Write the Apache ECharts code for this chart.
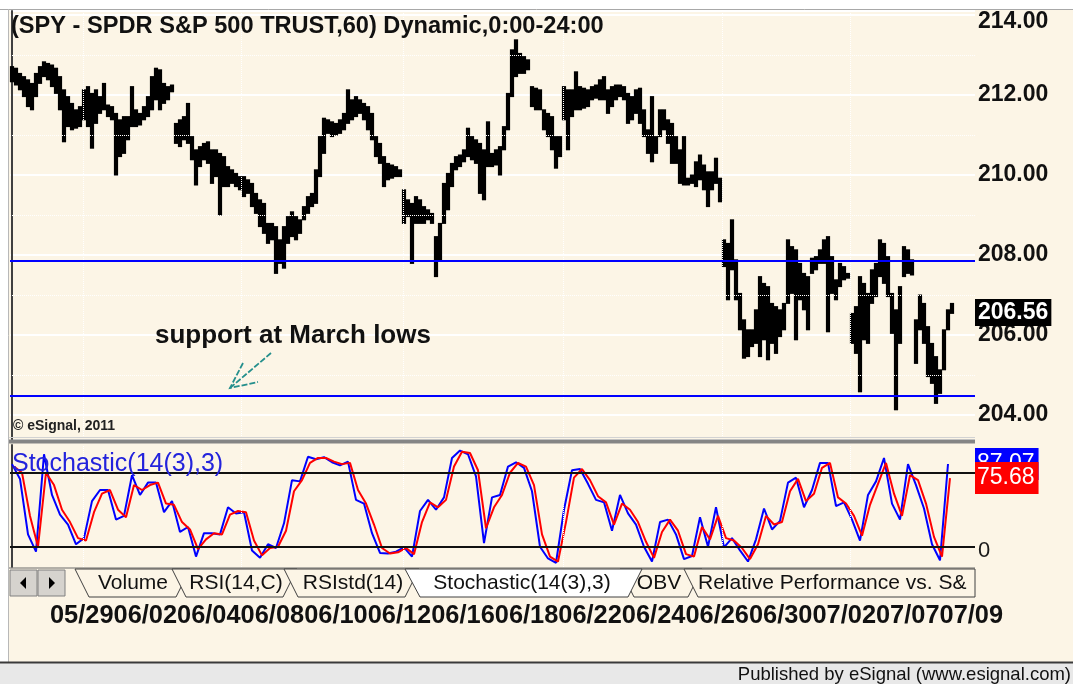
<!DOCTYPE html>
<html>
<head>
<meta charset="utf-8">
<title>SPY 60 min with Stochastic</title>
<script src="https://cdn.jsdelivr.net/npm/echarts@6/dist/echarts.min.js"></script>
<style>
  html, body { margin: 0; padding: 0; background: #fff; }
  #chart { width: 1073px; height: 684px; }
</style>
</head>
<body>
<div id="chart"></div>
<script>
// hourly bars, high / low (one entry per bar)
const priceHigh = [
  212.71, 212.67, 212.54, 212.46, 212.38, 212.29, 212.54, 212.71, 212.83, 212.79,
  212.75, 212.67, 212.46, 212.13, 211.96, 211.79, 211.63, 211.71, 212.13, 212.21,
  212.04, 212.13, 211.96, 212.29, 211.75, 211.71, 211.54, 211.38, 211.46, 211.46,
  212.21, 211.63, 211.54, 211.71, 211.96, 212.46, 212.67, 212.63, 212.29, 212.21,
  212.25, 211.29, 211.38, 211.46, 211.79, 210.96, 210.63, 210.71, 210.79, 210.83,
  210.63, 210.63, 210.54, 210.46, 210.21, 210.13, 210.04, 209.96, 209.96, 209.88,
  209.79, 209.54, 209.38, 209.29, 208.79, 208.79, 208.71, 208.38, 208.71, 208.96,
  209.08, 208.96, 208.88, 209.21, 209.46, 209.54, 210.13, 210.96, 211.42, 211.38,
  211.33, 211.29, 211.38, 211.54, 212.13, 211.88, 211.96, 211.88, 211.79, 211.71,
  211.54, 210.96, 210.79, 210.46, 210.29, 210.25, 210.21, 210.13, 209.63, 209.38,
  209.29, 209.46, 209.38, 209.21, 209.13, 209.04, 208.46, 208.79, 209.79, 210.04,
  210.29, 210.46, 210.50, 210.63, 211.17, 210.96, 210.88, 210.79, 210.63, 211.33,
  210.54, 210.63, 210.71, 211.21, 212.04, 213.13, 213.38, 213.04, 212.96, 212.88,
  212.21, 212.17, 212.13, 211.63, 211.54, 211.46, 210.96, 210.96, 212.21, 212.13,
  212.13, 212.58, 212.21, 212.17, 212.13, 212.21, 212.25, 212.38, 212.46, 212.13,
  212.21, 212.25, 212.25, 212.21, 212.04, 211.96, 212.13, 212.17, 211.63, 211.13,
  211.96, 210.96, 211.63, 211.63, 211.38, 211.29, 210.96, 210.63, 210.96, 209.92,
  210.00, 210.33, 210.50, 210.25, 210.08, 210.08, 210.42, 209.92, 208.38, 208.29,
  208.88, 207.88, 207.04, 206.38, 206.13, 206.13, 206.63, 207.46, 207.29, 207.21,
  206.79, 206.71, 206.63, 206.79, 208.38, 208.21, 208.13, 207.79, 207.54, 207.46,
  207.92, 207.96, 208.13, 208.38, 208.46, 207.96, 207.38, 207.79, 207.71, 207.54,
  206.54, 206.71, 207.46, 207.29, 207.04, 207.63, 207.79, 208.38, 208.29, 207.96,
  207.04, 206.63, 207.21, 208.21, 208.13, 207.88, 206.38, 207.00, 206.79, 206.21,
  205.79, 205.46, 205.13, 206.13, 206.63, 206.79
];
const priceLow = [
  212.33, 212.25, 212.13, 211.96, 211.71, 211.63, 211.96, 212.29, 212.46, 212.38,
  212.21, 212.04, 211.63, 210.83, 211.21, 211.13, 211.17, 211.21, 211.38, 211.21,
  210.67, 211.29, 211.54, 211.63, 211.46, 211.38, 210.00, 210.46, 210.54, 210.88,
  211.21, 211.21, 211.25, 211.38, 211.46, 211.63, 211.88, 211.63, 211.79, 211.88,
  212.08, 210.79, 210.71, 210.88, 210.79, 210.38, 209.75, 210.21, 210.38, 210.29,
  209.79, 209.96, 209.00, 209.71, 209.71, 209.79, 209.71, 209.63, 209.46, 209.54,
  209.21, 209.04, 208.71, 208.54, 208.29, 208.38, 207.54, 207.79, 207.67, 208.29,
  208.46, 208.38, 208.54, 208.88, 209.04, 209.21, 209.29, 209.96, 210.54, 211.04,
  210.96, 211.00, 211.04, 211.13, 211.29, 211.38, 211.46, 211.54, 211.38, 211.13,
  210.88, 210.46, 210.29, 209.71, 209.88, 209.92, 209.96, 209.96, 208.79, 208.96,
  207.79, 208.79, 208.79, 208.79, 208.88, 208.79, 207.46, 207.88, 208.79, 209.13,
  209.71, 210.13, 210.21, 210.33, 210.46, 210.38, 210.29, 209.54, 209.38, 210.21,
  210.21, 210.25, 210.00, 210.63, 211.13, 211.96, 212.46, 212.54, 212.54, 212.63,
  211.71, 211.63, 211.63, 211.13, 210.96, 210.63, 210.17, 210.46, 211.38, 210.63,
  211.46, 211.63, 211.63, 211.67, 211.71, 211.88, 211.92, 211.88, 211.88, 211.54,
  211.71, 211.88, 211.96, 211.88, 211.29, 211.38, 211.54, 211.29, 210.96, 210.54,
  210.33, 210.54, 210.96, 211.13, 210.79, 210.29, 210.29, 209.79, 209.75, 209.75,
  209.79, 209.71, 209.88, 209.63, 209.21, 209.63, 209.79, 209.33, 207.71, 206.88,
  207.63, 206.88, 206.13, 205.42, 205.46, 205.71, 205.79, 205.46, 205.88, 205.38,
  205.79, 205.54, 205.96, 206.13, 206.79, 207.04, 205.88, 206.88, 206.63, 206.13,
  207.54, 207.63, 207.79, 207.79, 206.08, 207.04, 206.88, 207.21, 207.38, 207.42,
  205.79, 205.54, 204.58, 205.88, 205.79, 206.79, 206.96, 207.46, 207.29, 206.96,
  206.04, 204.13, 205.79, 207.46, 207.54, 207.50, 205.29, 206.13, 205.79, 204.96,
  204.79, 204.29, 204.54, 205.13, 206.13, 206.54
];
const lastClose = 206.56;
const supportLevels = [207.86, 204.48];

// stochastic, one value every second bar
const stochK = [
  87, 75, 30, 16, 95, 62, 46, 38, 22, 27, 57, 66, 66, 42, 45, 78, 62, 72, 72, 48,
  57, 32, 36, 12, 31, 31, 30, 52, 47, 48, 17, 11, 22, 19, 39, 74, 73, 93, 91, 92.6,
  88.5, 86, 89, 58, 55, 31, 15, 14.5, 16, 19.5, 12, 49, 58, 50, 60, 92, 98, 95, 77, 23,
  60, 62, 85, 88.5, 84, 65, 20, 10.5, 7, 50, 82, 83, 71, 58, 56, 33, 62, 47, 38, 20,
  8, 40, 42, 30, 10, 12.5, 44, 20, 52, 19.5, 27, 17, 8, 26, 51, 34, 41, 72, 76, 52,
  66, 88, 88, 53, 56, 42, 25, 62, 73, 92, 55, 42, 87, 70, 51, 22, 9, 87.07
];
const stochD = [
  85, 80, 45, 20, 80, 70, 50, 40, 27, 25, 48, 63, 66, 50, 44, 70, 66, 70, 72, 55,
  54, 40, 34, 18, 26, 31, 30, 46, 49, 48, 25, 13, 19, 20, 33, 65, 74, 88, 92, 92,
  89, 87, 88, 66, 55, 38, 19, 14.5, 15.5, 19, 14, 40, 56, 52, 58, 85, 97, 96, 82, 35,
  52, 62, 80, 88, 85, 70, 30, 12, 8, 40, 76, 83, 74, 61, 56, 38, 55, 50, 40, 24,
  11, 32, 42, 33, 14, 12, 36, 26, 45, 27, 25, 19, 10, 22, 45, 38, 40, 65, 75, 57,
  63, 84, 88, 60, 55, 45, 29, 54, 71, 88, 63, 45, 78, 74, 55, 28, 12, 75.68
];
const stochBands = [20, 80];

// session separators (bar index) and the bottom date row
const dayLines = [17.75, 57.25, 97.75, 137.75, 177.5, 209.5];
const dateLabels = ["05/29", "06/02", "06/04", "06/08", "06/10", "06/12", "06/16", "06/18",
  "06/22", "06/24", "06/26", "06/30", "07/02", "07/07", "07/09"];
const tabNames = ["Volume", "RSI(14,C)", "RSIstd(14)", "Stochastic(14(3),3)", "OBV",
  "Relative Performance vs. S&"];

const CREAM = "#fcf5e6";
const FONT = "'Liberation Sans', Arial, sans-serif";

const chart = echarts.init(document.getElementById("chart"));

const barData = priceHigh.map((h, i) => [i, priceLow[i], h]);
const kData = stochK.map((v, j) => [2 * j, v]);
const dData = stochD.map((v, j) => [2 * j + 0.5, v]);

// one hourly bar = a thick black stroke from low to high
const renderBar = (params, api) => {
  const x = api.value(0);
  const top = api.coord([x, api.value(2)]);
  const bottom = api.coord([x, api.value(1)]);
  return {
    type: "rect",
    shape: { x: top[0] - 2.1, y: top[1] - 0.5, width: 4.2, height: Math.max(bottom[1] - top[1] + 1, 2) },
    style: { fill: "#000" }
  };
};

const dotted = { color: "#ffffff", width: 1, type: "dotted" };

// tab strip layout
const tabShapes = [
  [[75, 569], [89, 597], [176, 597], [190, 569]],
  [[172, 569], [186, 597], [283, 597], [297, 569]],
  [[284, 569], [298, 597], [405, 597], [419, 569]],
  [[405, 569], [420, 597], [628, 597], [642, 569]],
  [[620, 569], [634, 597], [688, 597], [702, 569]],
  [[684, 569], [698, 597], [975, 597], [975, 569]]
];
const tabText = [[133, "center"], [236, "center"], [353, "center"], [522, "center"], [659, "center"], [698, "left"]];
const activeTab = 3;

const tabGraphics = [];
[0, 1, 2, 4, 5, 3].forEach(k => {
  const lift = k === activeTab ? 10 : 0;
  tabGraphics.push({
    type: "polygon",
    shape: { points: tabShapes[k] },
    style: { fill: k === activeTab ? "#ffffff" : CREAM, stroke: "#404040", lineWidth: 1 },
    z: 100 + lift
  });
  tabGraphics.push({
    type: "text",
    x: tabText[k][0],
    y: 583,
    style: {
      text: tabNames[k], fill: "#111", font: "21px " + FONT,
      textAlign: tabText[k][1], textVerticalAlign: "middle"
    },
    z: 101 + lift
  });
});

const graphics = [
  // window chrome
  { type: "rect", shape: { x: 0, y: 0, width: 1073, height: 9 }, style: { fill: "#ffffff" }, z: 90 },
  { type: "rect", shape: { x: 0, y: 0, width: 8, height: 662 }, style: { fill: "#ffffff" }, z: 90 },
  { type: "line", shape: { x1: 0, y1: 9.5, x2: 1073, y2: 9.5 }, style: { stroke: "#a8a8a8", lineWidth: 1 }, z: 91 },
  { type: "line", shape: { x1: 8.5, y1: 9, x2: 8.5, y2: 662 }, style: { stroke: "#b8b8b8", lineWidth: 1 }, z: 91 },
  { type: "line", shape: { x1: 9, y1: 437.5, x2: 975, y2: 437.5 }, style: { stroke: "#d2d2d2", lineWidth: 1 }, z: 91 },
  { type: "rect", shape: { x: 9, y: 439.5, width: 966, height: 4 }, style: { fill: "#858585" }, z: 91 },
  { type: "line", shape: { x1: 9, y1: 568, x2: 975, y2: 568 }, style: { stroke: "#6a6a6a", lineWidth: 1 }, z: 91 },

  // titles and notes
  {
    type: "text", x: 11, y: 26, z: 95,
    style: { text: "(SPY - SPDR S&P 500 TRUST,60) Dynamic,0:00-24:00", fill: "#111", font: "bold 23.6px " + FONT, textVerticalAlign: "middle" }
  },
  {
    type: "text", x: 155, y: 336, z: 95,
    style: { text: "support at March lows", fill: "#111", font: "bold 26px " + FONT, textVerticalAlign: "middle" }
  },
  {
    type: "polyline", z: 95,
    shape: { points: [[271, 353], [230, 388]] },
    style: { stroke: "#248f8c", lineWidth: 1.8, lineDash: [6, 2] }
  },
  {
    type: "polyline", z: 95,
    shape: { points: [[243, 363], [230, 388], [258, 382]] },
    style: { stroke: "#248f8c", lineWidth: 1.8, fill: null, lineDash: [6, 2] }
  },
  {
    type: "text", x: 13, y: 426, z: 95,
    style: { text: "\u00a9 eSignal, 2011", fill: "#222", font: "bold 14px " + FONT, textVerticalAlign: "middle" }
  },
  {
    type: "text", x: 12, y: 464, z: 95,
    style: { text: "Stochastic(14(3),3)", fill: "#2323dc", font: "25px " + FONT, textVerticalAlign: "middle" }
  },
  {
    type: "text", x: 978, y: 551, z: 95,
    style: { text: "0", fill: "#1a1a1a", font: "22px " + FONT, textVerticalAlign: "middle" }
  },

  // scroll buttons of the tab strip
  { type: "rect", shape: { x: 10, y: 570, width: 27, height: 26 }, style: { fill: "#d6d3ce", stroke: "#808080", lineWidth: 1 }, z: 100 },
  { type: "rect", shape: { x: 38, y: 570, width: 27, height: 26 }, style: { fill: "#d6d3ce", stroke: "#808080", lineWidth: 1 }, z: 100 },
  { type: "polygon", shape: { points: [[20, 583], [26, 577], [26, 589]] }, style: { fill: "#000" }, z: 101 },
  { type: "polygon", shape: { points: [[55, 583], [49, 577], [49, 589]] }, style: { fill: "#000" }, z: 101 },
  ...tabGraphics,

  // date row
  {
    type: "text", x: 50, y: 616, z: 95,
    style: { text: dateLabels.join(""), fill: "#111", font: "bold 25.4px " + FONT, textVerticalAlign: "middle" }
  },

  // footer
  { type: "rect", shape: { x: 0, y: 663, width: 1073, height: 21 }, style: { fill: "#e8e8e8" }, z: 90 },
  { type: "line", shape: { x1: 0, y1: 662.5, x2: 1073, y2: 662.5 }, style: { stroke: "#3a3a3a", lineWidth: 2 }, z: 91 },
  {
    type: "text", x: 1071, y: 675, z: 95,
    style: { text: "Published by eSignal (www.esignal.com)", fill: "#111", font: "18.5px " + FONT, textAlign: "right", textVerticalAlign: "middle" }
  }
];

const option = {
  animation: false,
  backgroundColor: CREAM,
  grid: [
    { left: 10, top: 11, width: 965, height: 429 },
    { left: 10, top: 445, width: 965, height: 122 }
  ],
  xAxis: [
    { type: "value", gridIndex: 0, min: -0.5, max: 240.75, show: false },
    { type: "value", gridIndex: 1, min: -0.5, max: 240.75, show: false }
  ],
  yAxis: [
    {
      type: "value",
      gridIndex: 0,
      position: "right",
      min: 203.375,
      max: 214.1,
      splitNumber: 5,
      axisLine: { show: true, lineStyle: { color: "#404040", width: 2 } },
      axisTick: { show: false },
      axisLabel: {
        margin: 3,
        color: "#111",
        fontFamily: FONT,
        fontSize: 23,
        fontWeight: "bold",
        formatter: v => {
          const r = Math.round(v);
          if (Math.abs(v - r) > 1e-6 || r % 2 !== 0) return "";
          return r === 214 ? "{top|" + r.toFixed(2) + "}" : r.toFixed(2);
        },
        rich: { top: { padding: [14, 0, 0, 0], fontSize: 23, fontWeight: "bold", color: "#111", fontFamily: FONT } }
      },
      splitLine: { show: true, lineStyle: { color: "#ffffff", width: 2 } }
    },
    {
      type: "value",
      gridIndex: 1,
      position: "right",
      min: 3.57,
      max: 102.5,
      axisLine: { show: true, lineStyle: { color: "#404040", width: 2 } },
      axisTick: { show: false },
      axisLabel: { show: false },
      splitLine: { show: false }
    }
  ],
  series: [
    {
      type: "custom",
      name: "SPY",
      xAxisIndex: 0,
      yAxisIndex: 0,
      renderItem: renderBar,
      encode: { x: 0, y: [1, 2] },
      data: barData,
      z: 3,
      markLine: {
        silent: true,
        symbol: ["none", "none"],
        label: { show: false },
        data: [
          ...dayLines.map(v => ({ xAxis: v, lineStyle: dotted })),
          ...[205, 207, 209, 211, 213].map(v => ({ yAxis: v, lineStyle: dotted })),
          ...supportLevels.map(v => ({ yAxis: v, lineStyle: { color: "#0000ff", width: 2, type: "solid" } }))
        ]
      }
    },
    {
      type: "line",
      name: "%K",
      xAxisIndex: 1,
      yAxisIndex: 1,
      data: kData,
      showSymbol: false,
      lineStyle: { color: "#0000ff", width: 2 },
      z: 3,
      markLine: {
        silent: true,
        symbol: ["none", "none"],
        label: { show: false },
        data: [
          ...dayLines.map(v => ({ xAxis: v, lineStyle: dotted })),
          ...stochBands.map(v => ({ yAxis: v, lineStyle: { color: "#111", width: 2, type: "solid" } }))
        ]
      }
    },
    {
      type: "line",
      name: "%D",
      xAxisIndex: 1,
      yAxisIndex: 1,
      data: dData,
      showSymbol: false,
      lineStyle: { color: "#ff0000", width: 2 },
      z: 4
    }
  ],
  graphic: graphics
};

chart.setOption(option);

// last-value boxes on the right edge, placed with the axes' own scales
const kLast = stochK[stochK.length - 1];
const dLast = stochD[stochD.length - 1];
const valueBox = (val, axis, bg, weight, pad, z) => ({
  type: "text",
  x: 975,
  y: chart.convertToPixel({ yAxisIndex: axis }, val),
  z: z,
  style: {
    text: val.toFixed(2),
    fill: "#fff",
    font: weight + " 23px " + FONT,
    backgroundColor: bg,
    padding: pad,
    textVerticalAlign: "middle"
  }
});
option.graphic = graphics.concat([
  valueBox(lastClose, 0, "#000", "bold", [3, 3, 1, 3], 120),
  valueBox(kLast, 1, "#0000ff", "normal", [5, 4, 4, 2], 120),
  valueBox(dLast, 1, "#ff0000", "normal", [5, 4, 4, 2], 121)
]);
chart.setOption(option);
</script>
</body>
</html>
